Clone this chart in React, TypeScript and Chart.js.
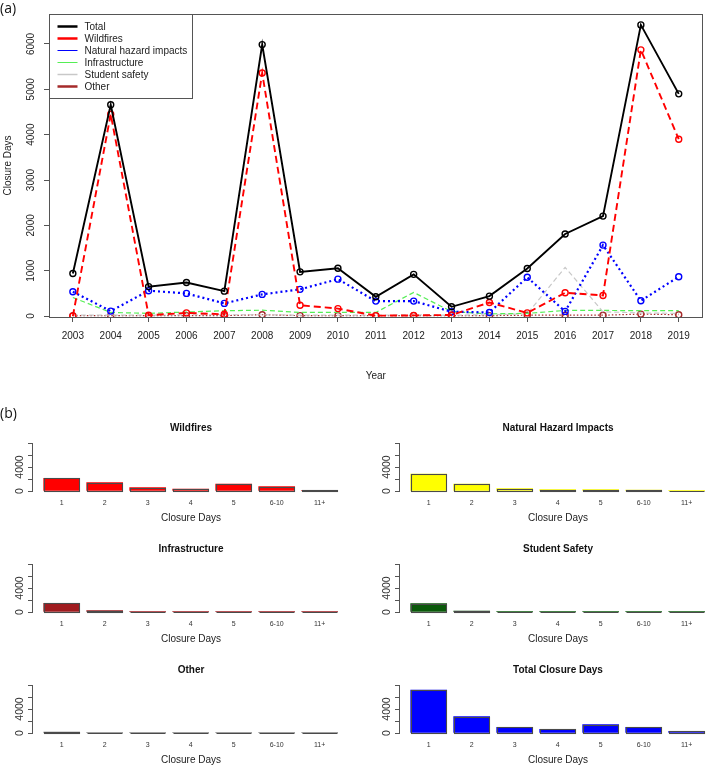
import React, { useEffect, useRef } from "react";
import { Chart, registerables } from "chart.js";

Chart.register(...registerables);

const FONT = '"Liberation Sans", Arial, Helvetica, sans-serif';
Chart.defaults.font.family = FONT;

// ---------- (a) line chart data ----------
const years = [2003, 2004, 2005, 2006, 2007, 2008, 2009, 2010, 2011, 2012, 2013, 2014, 2015, 2016, 2017, 2018, 2019];
const total = [940, 4660, 650, 740, 550, 5985, 975, 1055, 425, 920, 205, 440, 1050, 1810, 2205, 6420, 4900];
const wildfires = [0, 4450, 20, 70, 40, 5360, 240, 165, 10, 15, 25, 300, 70, 515, 455, 5870, 3900];
const naturalHazard = [537, 110, 560, 500, 280, 478, 590, 815, 330, 330, 96, 80, 855, 103, 1565, 338, 868];
const infrastructure = [410, 80, 60, 90, 118, 130, 80, 80, 80, 522, 100, 50, 60, 125, 125, 120, 120];
const studentSafety = [20, 20, 20, 30, 30, 30, 20, 20, 20, 30, 20, 30, 50, 1075, 95, 70, 60];
const other = [10, 10, 10, 10, 10, 30, 10, 10, 10, 10, 10, 10, 20, 20, 20, 44, 30];
const yTicksTop = [0, 1000, 2000, 3000, 4000, 5000, 6000];

const seriesLabels = ["Total", "Wildfires", "Natural hazard impacts", "Infrastructure", "Student safety", "Other"];

// ---------- (b) bar panels data ----------
const binLabels = ["1", "2", "3", "4", "5", "6-10", "11+"];
const binPositions = [1, 2, 3, 4, 5, 6, 7];
const wildfireBins = [2120, 1390, 560, 330, 1170, 720, 110];
const naturalHazardBins = [2830, 1170, 390, 220, 220, 170, 50];
const infrastructureBins = [1440, 220, 60, 50, 40, 40, 30];
const studentSafetyBins = [1390, 170, 50, 50, 40, 40, 30];
const otherBins = [150, 50, 40, 40, 40, 40, 30];
const totalBins = [7160, 2740, 950, 615, 1400, 950, 280];
const panelYTicks = [0, 2000, 4000, 6000, 8000];
const panelYLabeled = [0, 4000];

const panelTitles = ["Wildfires", "Natural Hazard Impacts", "Infrastructure", "Student Safety", "Other", "Total Closure Days"];
const panelValues = [wildfireBins, naturalHazardBins, infrastructureBins, studentSafetyBins, otherBins, totalBins];
const panelColors = ["#ff0000", "#ffff00", "#a01b1f", "#0a5a0a", "#808080", "#0000ff"];

// style for legend lines
const legendLineWidths = [2.5, 2.5, 1, 1, 1.5, 2.5];

const boxAndLegendPlugin = {
  id: "boxAndLegend",
  afterDraw(chart: any) {
    const { ctx, chartArea: a } = chart;
    ctx.save();
    ctx.strokeStyle = "#555";
    ctx.lineWidth = 1;
    ctx.setLineDash([]);
    ctx.strokeRect(Math.round(a.left) + 0.5, Math.round(a.top) + 0.5, Math.round(a.right - a.left) - 1, Math.round(a.bottom - a.top));
    const lx = Math.round(a.left) + 0.5;
    const ly = Math.round(a.top) + 0.5;
    const w = 143;
    const h = 84;
    ctx.fillStyle = "#fff";
    ctx.fillRect(lx, ly, w, h);
    ctx.strokeRect(lx, ly, w, h);
    chart.data.datasets.forEach((ds: any, i: number) => {
      const y = ly + 12 + i * 12;
      ctx.beginPath();
      ctx.strokeStyle = ds.borderColor;
      ctx.lineWidth = legendLineWidths[i];
      ctx.setLineDash([]);
      ctx.moveTo(lx + 8, y);
      ctx.lineTo(lx + 28, y);
      ctx.stroke();
      ctx.fillStyle = "#222";
      ctx.font = `10px ${FONT}`;
      ctx.textBaseline = "middle";
      ctx.textAlign = "left";
      ctx.fillText(ds.label, lx + 35, y + 0.5);
    });
    ctx.restore();
  },
};

const barOutlinePlugin = {
  id: "barOutline",
  afterDatasetsDraw(chart: any) {
    const ctx = chart.ctx;
    ctx.save();
    ctx.strokeStyle = "#4a4a4a";
    ctx.lineWidth = 1.1;
    chart.getDatasetMeta(0).data.forEach((el: any) => {
      const { x, y, base, width } = el.getProps(["x", "y", "base", "width"], true);
      const l = Math.round(x - width / 2) + 0.5;
      const r = Math.round(x + width / 2) - 0.5;
      const t = Math.round(Math.min(y, base)) + 0.5;
      const b = Math.round(Math.max(y, base)) + 0.5;
      ctx.strokeRect(l, t, r - l, Math.max(b - t, 0));
    });
    ctx.restore();
  },
};

function toXY(vals: number[]) {
  return vals.map((v, i) => ({ x: years[i], y: v }));
}

function LineChart() {
  const ref = useRef<HTMLCanvasElement>(null);
  useEffect(() => {
    const seriesValues = [total, wildfires, naturalHazard, infrastructure, studentSafety, other];
    const colors = ["#000000", "#ff0000", "#0000ff", "#55ee55", "#c8c8c8", "#a52a2a"];
    const dashes = [[], [7, 4], [2, 3], [5, 3], [5, 3], [1.5, 2]];
    const widths = [1.9, 1.9, 2.2, 1.2, 1.2, 1.2];
    const markers = [true, true, true, false, false, true];
    const chart = new Chart(ref.current!, {
      type: "line",
      data: {
        datasets: seriesValues.map((vals, i) => ({
          label: seriesLabels[i],
          data: toXY(vals),
          borderColor: colors[i],
          borderWidth: widths[i],
          borderDash: dashes[i],
          pointRadius: markers[i] ? 3 : 0,
          pointBorderWidth: 1.4,
          pointBorderColor: colors[i],
          pointBackgroundColor: "rgba(0,0,0,0)",
          fill: false,
          tension: 0,
        })),
      },
      options: {
        responsive: false,
        animation: false,
        layout: { padding: { top: 14, right: 2, left: 0, bottom: 0 } },
        plugins: { legend: { display: false }, tooltip: { enabled: false }, title: { display: false } },
        scales: {
          x: {
            type: "linear",
            min: 2002.37,
            max: 2019.63,
            afterBuildTicks: (s: any) => {
              s.ticks = years.map((v) => ({ value: v }));
            },
            afterFit: (s: any) => {
              s.height = 75;
            },
            grid: { drawOnChartArea: false, drawTicks: true, tickLength: 5, color: "#555" },
            border: { display: true, color: "#555" },
            ticks: { callback: (v: any) => String(v), font: { size: 10 }, color: "#222", padding: 8, maxRotation: 0, autoSkip: false },
            title: { display: true, text: "Year", font: { size: 10 }, color: "#222", padding: { top: 0, bottom: 10 } },
          },
          y: {
            type: "linear",
            min: -20,
            max: 6660,
            afterBuildTicks: (s: any) => {
              s.ticks = yTicksTop.map((v) => ({ value: v }));
            },
            afterFit: (s: any) => {
              s.width = 49;
            },
            grid: { drawOnChartArea: false, drawTicks: true, tickLength: 5, color: "#555" },
            border: { display: true, color: "#555" },
            ticks: { callback: (v: any) => String(v), font: { size: 10 }, color: "#222", padding: 2, minRotation: 90, maxRotation: 90, crossAlign: "center" },
            title: { display: true, text: "Closure Days", font: { size: 10 }, color: "#222", padding: { top: 2, bottom: 0 } },
          },
        },
      },
      plugins: [boxAndLegendPlugin],
    } as any);
    return () => chart.destroy();
  }, []);
  return <canvas ref={ref} width={708} height={392} style={{ position: "absolute", left: 0, top: 0, width: 708, height: 392 }} />;
}

function BarPanel({ index }: { index: number }) {
  const ref = useRef<HTMLCanvasElement>(null);
  const col = index % 2;
  const row = Math.floor(index / 2);
  const left = col === 0 ? 0 : 367;
  const top = 407 + row * 121;
  const width = 350;
  const height = 121;
  useEffect(() => {
    const xMin = 0.31;
    const xMax = xMin + (width - 32) / 43;
    const chart = new Chart(ref.current!, {
      type: "bar",
      data: {
        datasets: [
          {
            label: panelTitles[index],
            data: panelValues[index].map((v, i) => ({ x: binPositions[i], y: v })),
            backgroundColor: panelColors[index],
            borderWidth: 0,
            borderSkipped: false,
            barThickness: 36,
          },
        ],
      },
      options: {
        responsive: false,
        animation: false,
        layout: { padding: 0 },
        plugins: {
          legend: { display: false },
          tooltip: { enabled: false },
          title: {
            display: true,
            text: panelTitles[index],
            fullSize: false,
            font: { size: 10, weight: "bold" },
            color: "#111",
            padding: { top: 15, bottom: 9 },
          },
        },
        scales: {
          x: {
            type: "linear",
            min: xMin,
            max: xMax,
            offset: false,
            afterBuildTicks: (s: any) => {
              s.ticks = binPositions.map((v) => ({ value: v }));
            },
            afterFit: (s: any) => {
              s.height = 37;
            },
            grid: { display: false, drawTicks: false },
            border: { display: false },
            ticks: { callback: (_v: any, i: number) => binLabels[i], font: { size: 7 }, color: "#333", padding: 8, maxRotation: 0, autoSkip: false },
            title: { display: true, text: "Closure Days", font: { size: 10 }, color: "#222", padding: { top: 0, bottom: 3.5 } },
          },
          y: {
            type: "linear",
            min: 0,
            max: 8000,
            afterBuildTicks: (s: any) => {
              s.ticks = panelYTicks.map((v) => ({ value: v }));
            },
            afterFit: (s: any) => {
              s.width = 32;
            },
            grid: { drawOnChartArea: false, drawTicks: true, tickLength: 4, color: "#555" },
            border: { display: true, color: "#555" },
            ticks: {
              callback: (v: any) => (panelYLabeled.includes(v) ? String(v) : ""),
              font: { size: 10.5 },
              color: "#333",
              padding: -4,
              minRotation: 90,
              maxRotation: 90,
              crossAlign: "center",
              autoSkip: false,
            },
          },
        },
      },
      plugins: [barOutlinePlugin],
    } as any);
    return () => chart.destroy();
  }, [index]);
  return <canvas ref={ref} width={width} height={height} style={{ position: "absolute", left, top, width, height }} />;
}

export default function App() {
  return (
    <div style={{ position: "absolute", left: 0, top: 0, width: 708, height: 767, overflow: "hidden", background: "#fff" }}>
      <LineChart />
      {panelTitles.map((_, i) => (
        <BarPanel key={i} index={i} />
      ))}
      <span style={{ position: "absolute", left: 0, top: -1, fontFamily: '"Open Sans", "Noto Sans", sans-serif', fontSize: 14, lineHeight: "18px", color: "#111", zIndex: 2 }}>(a)</span>
      <span style={{ position: "absolute", left: 0, top: 404, fontFamily: '"Open Sans", "Noto Sans", sans-serif', fontSize: 14, lineHeight: "18px", color: "#111", zIndex: 2 }}>(b)</span>
    </div>
  );
}
